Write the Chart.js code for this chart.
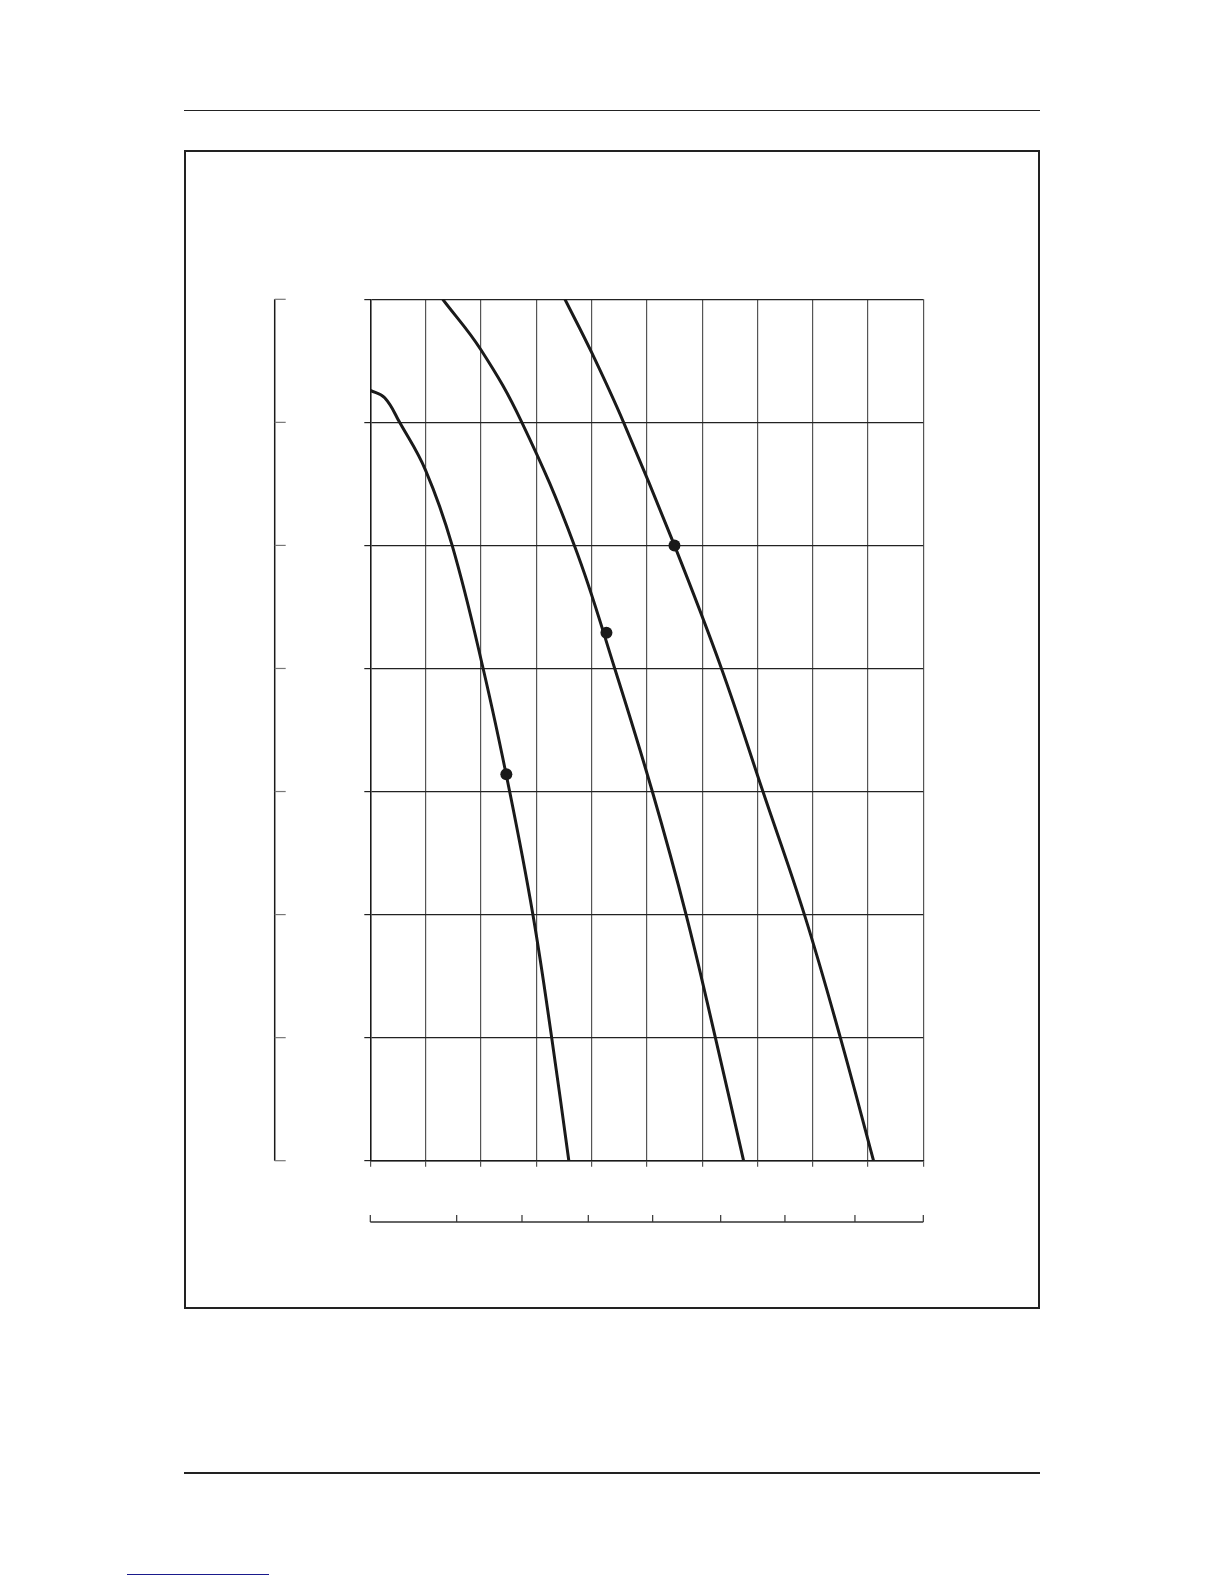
<!DOCTYPE html>
<html>
<head>
<meta charset="utf-8">
<script src="https://cdn.jsdelivr.net/npm/chart.js@4.4.1/dist/chart.umd.min.js"></script>
<style>
  html, body { margin: 0; padding: 0; background: #fff; }
  body { width: 1224px; height: 1584px; position: relative; overflow: hidden; font-family: 'Liberation Sans', Arial, sans-serif; }
  .rule-top { position: absolute; left: 184px; top: 110px; width: 856px; height: 0; border-top: 1.3px solid #222; }
  .frame { position: absolute; left: 184px; top: 150px; width: 852px; height: 1155px; border: 2px solid #222; }
  .rule-bottom { position: absolute; left: 184px; top: 1472px; width: 856px; height: 0; border-top: 2px solid #222; }
  .link-line { position: absolute; left: 127px; top: 1574px; width: 142px; height: 0; border-top: 1px solid #1a1a8c; }
  #chartBox { position: absolute; left: 250px; top: 280px; width: 700px; height: 960px; }
</style>
</head>
<body>
<div class="rule-top"></div>
<div class="frame"></div>
<div class="rule-bottom"></div>
<div class="link-line"></div>
<div id="chartBox"><canvas id="curveChart" width="700" height="960"></canvas></div>

<script>
// grid range (no labels in the source)
const xMin = 0, xMax = 10;
const yMin = 0, yMax = 7;

// three characteristic curves in grid units
const curve1X = [0, 0.26, 0.53, 1, 1.48, 2.04, 2.52, 2.94, 3.28, 3.59];
const curve1Y = [6.26, 6.2, 6, 5.61, 5, 4, 3, 2, 1, 0];

const curve2X = [1.31, 2, 2.74, 3.69, 4.42, 5.1, 5.71, 6.24, 6.75];
const curve2Y = [7, 6.59, 6, 5, 4, 3, 2, 1, 0];

const curve3X = [3.52, 4, 4.58, 5.5, 6.35, 7.1, 7.85, 8.5, 9.1];
const curve3Y = [7, 6.57, 6, 5, 4, 3, 2, 1, 0];

// marked operating points
const dotX = [2.46, 4.27, 5.5];
const dotY = [3.14, 4.29, 5.0];

// secondary scales (tick positions in main grid units)
const leftAxisTicks = [0, 1, 2, 3, 4, 5, 6, 7];
const bottomAxisTicks = [0, 1.562, 2.743, 3.942, 5.106, 6.336, 7.498, 8.764, 10];

const toPoints = (xs, ys) => xs.map((x, i) => ({ x: x, y: ys[i] }));

const curveStyle = {
    borderColor: '#1a1a1a',
    borderWidth: 3,
    pointRadius: 0,
    fill: false,
    tension: 0.4
};

// draws the extra left and bottom scales with their inward ticks
const secondaryAxes = {
    id: 'secondaryAxes',
    afterDraw(chart) {
        const { ctx, chartArea, scales } = chart;
        const x = scales.x, y = scales.y;
        ctx.save();

        // left scale
        const lx = chartArea.left - 95.6;
        ctx.strokeStyle = '#1a1a1a';
        ctx.lineWidth = 1.5;
        ctx.beginPath();
        ctx.moveTo(lx, y.getPixelForValue(yMax));
        ctx.lineTo(lx, y.getPixelForValue(yMin));
        ctx.stroke();
        ctx.strokeStyle = '#777';
        ctx.lineWidth = 1.2;
        leftAxisTicks.forEach(v => {
            const py = y.getPixelForValue(v);
            ctx.beginPath();
            ctx.moveTo(lx, py);
            ctx.lineTo(lx + 11, py);
            ctx.stroke();
        });

        // bottom scale
        const by = chartArea.bottom + 61.3;
        ctx.strokeStyle = '#333';
        ctx.lineWidth = 1.3;
        ctx.beginPath();
        ctx.moveTo(x.getPixelForValue(xMin), by);
        ctx.lineTo(x.getPixelForValue(xMax), by);
        ctx.stroke();
        ctx.lineWidth = 1.2;
        bottomAxisTicks.forEach(v => {
            const px = x.getPixelForValue(v);
            ctx.beginPath();
            ctx.moveTo(px, by);
            ctx.lineTo(px, by - 7);
            ctx.stroke();
        });

        ctx.restore();
    }
};

const ctx = document.getElementById('curveChart').getContext('2d');
new Chart(ctx, {
    type: 'line',
    data: {
        datasets: [
            Object.assign({ data: toPoints(curve1X, curve1Y) }, curveStyle),
            Object.assign({ data: toPoints(curve2X, curve2Y) }, curveStyle),
            Object.assign({ data: toPoints(curve3X, curve3Y) }, curveStyle),
            {
                data: toPoints(dotX, dotY),
                showLine: false,
                pointRadius: 6,
                pointBackgroundColor: '#1a1a1a',
                pointBorderColor: '#1a1a1a',
                pointBorderWidth: 0
            }
        ]
    },
    options: {
        responsive: false,
        animation: false,
        layout: { padding: { left: 114.3, top: 19.3, right: 26.7, bottom: 73.3 } },
        scales: {
            x: {
                type: 'linear',
                min: xMin,
                max: xMax,
                ticks: { display: false, stepSize: 1 },
                grid: { color: '#555', lineWidth: 1.2, tickLength: 6, drawTicks: true },
                border: { color: '#1a1a1a', width: 1.5 }
            },
            y: {
                type: 'linear',
                min: yMin,
                max: yMax,
                ticks: { display: false, stepSize: 1 },
                grid: { color: '#222', lineWidth: 1.2, tickLength: 6, drawTicks: true },
                border: { color: '#1a1a1a', width: 1.5 }
            }
        },
        plugins: {
            legend: { display: false },
            tooltip: { enabled: false }
        }
    },
    plugins: [secondaryAxes]
});
</script>
</body>
</html>
